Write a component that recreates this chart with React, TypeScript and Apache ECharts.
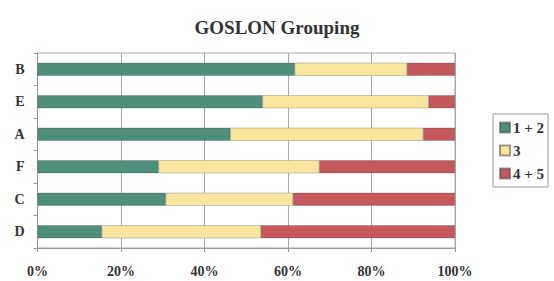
import React, { useEffect, useRef } from "react";
import * as echarts from "echarts";

const categories = ["D", "C", "F", "A", "E", "B"];
const seriesNames = ["1 + 2", "3", "4 + 5"];
const group12 = [15.4, 30.7, 29.0, 46.2, 53.9, 61.6];
const group3 = [38.1, 30.5, 38.5, 46.2, 39.8, 26.9];
const group45 = [46.5, 38.8, 32.5, 7.6, 6.3, 11.5];
const tickLabels = ["0%", "20%", "40%", "60%", "80%", "100%"];
const colors = ["#4e8e7b", "#f8e59e", "#c4585c"];

const font = '"Liberation Serif", "Times New Roman", serif';

export default function App() {
  const ref = useRef<HTMLDivElement>(null);
  useEffect(() => {
    if (!ref.current) return;
    const chart = echarts.init(ref.current, undefined, { renderer: "svg" });
    const values = [group12, group3, group45];
    chart.setOption({
      animation: false,
      backgroundColor: "#ffffff",
      title: {
        text: "GOSLON Grouping",
        left: "center",
        top: 13,
        textStyle: { fontFamily: font, fontWeight: "bold", fontSize: 19, color: "#333" },
      },
      legend: {
        orient: "vertical",
        left: 493,
        top: 114,
        width: 60,
        padding: [6, 4, 6, 6],
        itemGap: 8,
        itemWidth: 10,
        itemHeight: 10,
        borderColor: "#999",
        borderWidth: 1,
        icon: "rect",
        data: seriesNames,
        textStyle: { fontFamily: font, fontWeight: "bold", fontSize: 15, color: "#333", padding: [0, 0, 0, -2] },
      },
      grid: {
        left: 37.5,
        right: 99,
        top: 53,
        bottom: 33,
        show: true,
        borderColor: "#aaa",
        borderWidth: 1,
      },
      xAxis: {
        type: "value",
        min: 0,
        max: 100,
        interval: 20,
        axisLine: { show: true, lineStyle: { color: "#999" } },
        axisTick: { show: true, length: 4, lineStyle: { color: "#999" } },
        splitLine: { show: true, lineStyle: { color: "#aaa" } },
        axisLabel: {
          margin: 16,
          fontFamily: font,
          fontWeight: "bold",
          fontSize: 14,
          color: "#333",
          formatter: (v: number) => tickLabels[Math.round(v / 20)],
        },
      },
      yAxis: {
        type: "category",
        data: categories,
        axisLine: { show: true, lineStyle: { color: "#999" } },
        axisTick: { show: true, length: 4, lineStyle: { color: "#999" } },
        axisLabel: {
          margin: 13,
          fontFamily: font,
          fontWeight: "bold",
          fontSize: 14,
          color: "#333",
        },
      },
      series: seriesNames.map((name, i) => ({
        name,
        type: "bar",
        stack: "total",
        barWidth: 13,
        data: values[i],
        itemStyle: { color: colors[i], borderColor: "rgba(60,60,60,0.5)", borderWidth: 0.5 },
      })),
    });
    return () => chart.dispose();
  }, []);
  return <div ref={ref} style={{ position: "fixed", left: 0, top: 0, width: 554, height: 281 }} />;
}
